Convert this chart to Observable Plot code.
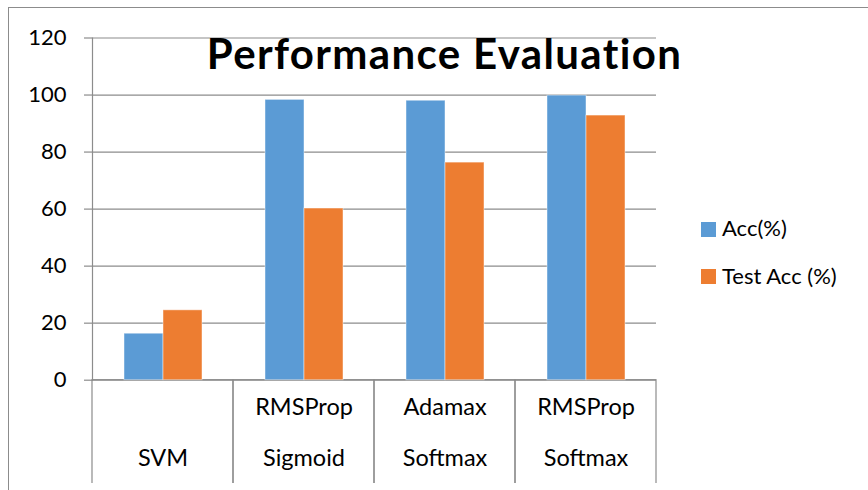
<!DOCTYPE html>
<html>
<head>
<meta charset="utf-8">
<script src="https://cdn.jsdelivr.net/npm/d3@7"></script>
<script src="https://cdn.jsdelivr.net/npm/@observablehq/plot@0.6"></script>
<style>
  html, body { margin: 0; padding: 0; background: #fff; }
  #wrap { position: relative; width: 868px; height: 490px; overflow: hidden; font-family: Lato, "Open Sans", sans-serif; }
  #border { position: absolute; left: 8px; top: 7px; width: 900px; height: 520px; border-top: 1.5px solid #8c8c8c; border-left: 1.5px solid #8c8c8c; }
  #chart { position: absolute; left: 0; top: 0; width: 868px; height: 483px; overflow: hidden; }
  #title { position: absolute; left: 0; width: 889px; top: 27px; text-align: center; font-weight: bold; font-size: 42px; letter-spacing: 1.35px; color: #000; line-height: 52px; white-space: nowrap; }
  .sw { position: absolute; left: 701px; width: 15px; height: 15px; }
  .lt { position: absolute; left: 722px; font-size: 22px; color: #000; line-height: 24px; white-space: nowrap; }
</style>
</head>
<body>
<div id="wrap">
  <div id="border"></div>
  <div id="chart"></div>
  <div id="title">Performance Evaluation</div>
  <div id="legend"></div>
</div>
<script>
const categories = ["SVM", "RMSProp Sigmoid", "Adamax Softmax", "RMSProp Softmax"];
const labelLine1 = ["", "RMSProp", "Adamax", "RMSProp"];
const labelLine2 = ["SVM", "Sigmoid", "Softmax", "Softmax"];
const seriesNames = ["Acc(%)", "Test Acc (%)"];
const seriesColors = ["#5b9bd5", "#ed7d31"];
const accValues = [16.3, 98.3, 98.0, 99.8];
const testAccValues = [24.5, 60.2, 76.3, 92.8];
const yTicks = [0, 20, 40, 60, 80, 100, 120];

const data = categories.flatMap((c, i) => [
  {category: c, series: seriesNames[0], value: accValues[i]},
  {category: c, series: seriesNames[1], value: testAccValues[i]}
]);
const labels = categories.map((c, i) => ({category: c, l1: labelLine1[i], l2: labelLine2[i]}));

const gridColor = "#8c8c8c";

const chart = Plot.plot({
  width: 868,
  height: 483,
  marginLeft: 91,
  marginRight: 211,
  marginTop: 37.5,
  marginBottom: 103.3,
  style: {fontFamily: "Lato, 'Open Sans', sans-serif", fontSize: "22px", color: "#000", background: "transparent", overflow: "hidden"},
  fx: {domain: categories, padding: 0, axis: null},
  x: {domain: seriesNames, paddingInner: 0, paddingOuter: 0.77, axis: null},
  y: {domain: [0, 120], axis: null},
  color: {domain: seriesNames, range: seriesColors},
  marks: [
    Plot.gridY(yTicks, {stroke: gridColor, strokeOpacity: 1, strokeWidth: 1.2}),
    Plot.axisY(yTicks, {tickSize: 8, tickPadding: 18, stroke: gridColor, strokeWidth: 1.2, fill: "#000", fontSize: 22, label: null}),
    Plot.frame({anchor: "left", facetAnchor: "left", stroke: gridColor, strokeWidth: 1.2}),
    Plot.barY(labels, {fx: "category", y1: 0, y2: -36.6, fill: "none", stroke: gridColor, strokeWidth: 1.2}),
    Plot.barY(data, {fx: "category", x: "series", y: "value", fill: "series", stroke: "#fff", strokeOpacity: 0.45, strokeWidth: 1}),
    Plot.text(labels, {fx: "category", text: "l1", frameAnchor: "bottom", dy: 35, fontSize: 23.5, fill: "#000"}),
    Plot.text(labels, {fx: "category", text: "l2", frameAnchor: "bottom", dy: 86, fontSize: 23.5, fill: "#000"})
  ]
});
document.getElementById("chart").appendChild(chart);

const legend = document.getElementById("legend");
const swatchTops = [222, 269];
const textTops = [216, 263.5];
seriesNames.forEach((s, i) => {
  const sw = document.createElement("div");
  sw.className = "sw";
  sw.style.top = swatchTops[i] + "px";
  sw.style.background = seriesColors[i];
  legend.appendChild(sw);
  const t = document.createElement("div");
  t.className = "lt";
  t.style.top = textTops[i] + "px";
  t.textContent = s;
  legend.appendChild(t);
});
</script>
</body>
</html>
